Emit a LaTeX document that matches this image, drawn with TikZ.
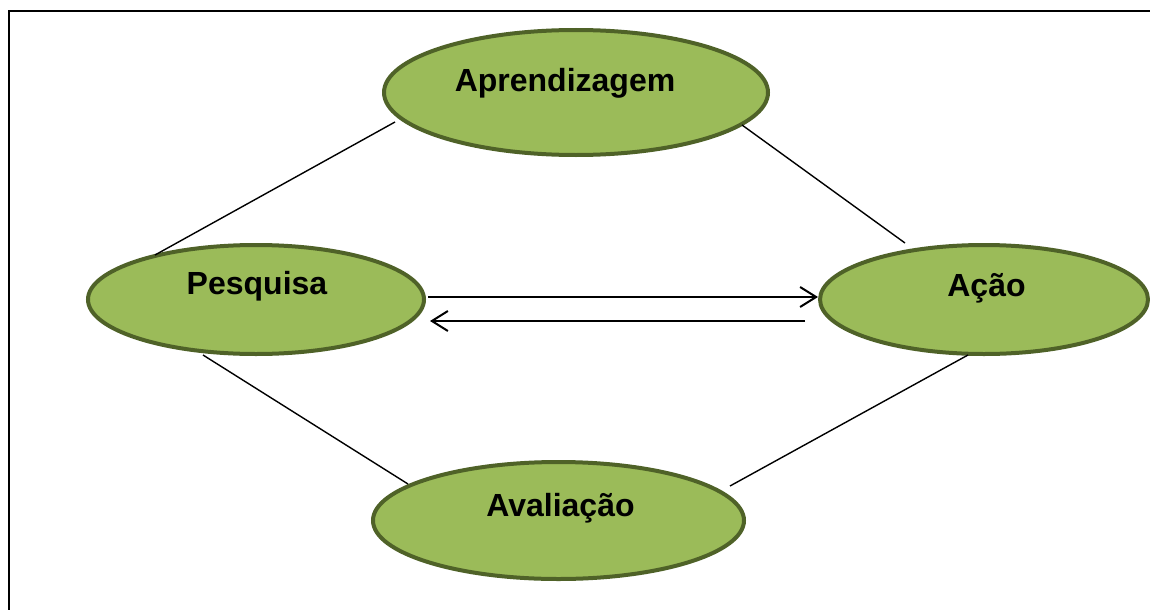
\documentclass[tikz,border=0pt]{standalone}
\usepackage{fontspec}
\setmainfont{Liberation Sans}
\usetikzlibrary{shapes.geometric,arrows.meta,calc}
\definecolor{ellfill}{HTML}{9BBB59}
\definecolor{elldraw}{HTML}{4F6228}
\begin{document}
\begin{tikzpicture}[x=1pt,y=-1pt,
 ell/.style={ellipse,draw=elldraw,fill=ellfill,line width=4pt,inner sep=0pt,outer sep=0pt},
 lbl/.style={font=\bfseries\fontsize{32}{36}\selectfont,anchor=base,inner sep=0pt},
 link/.style={line width=1.4pt},
 arr/.style={line width=2pt,-{Straight Barb[length=16pt,width=20pt,line width=2pt]}}]
\useasboundingbox (0,0) rectangle (1150,610);
\draw[line width=2.6pt] (1150,11) -- (9,11) -- (9,610);
\node[ell,minimum width=384pt,minimum height=125pt] (apr) at (576,92.5) {};
\node[ell,minimum width=336pt,minimum height=109pt] (pes) at (256,299.5) {};
\node[ell,minimum width=328pt,minimum height=109pt] (aca) at (984,299.5) {};
\node[ell,minimum width=371pt,minimum height=117pt] (ava) at (558.5,520.5) {};
\node[lbl] (taprt) at ($(apr)+(-11,-1.5)$) {Aprendizagem};
\node[lbl] (tpes) at ($(pes)+(1,-5)$) {Pesquisa};
\node[lbl] (taca) at ($(aca)+(2.5,-3.5)$) {Ação};
\node[lbl] (tava) at ($(ava)+(2,-4.5)$) {Avaliação};
\draw[link] ($(pes)+(-101,-44.5)$) -- ($(apr)+(-181,29.5)$);
\draw[link] ($(apr)+(166,32.5)$) -- ($(aca)+(-79,-56.5)$);
\draw[link] ($(pes)+(-53,55.5)$) -- ($(ava)+(-150.5,-36.5)$);
\draw[link] ($(aca)+(-16,55.5)$) -- ($(ava)+(171.5,-34.5)$);
\draw[arr] ($(pes)+(172,-2.5)$) -- ($(aca)+(-166,-2.5)$);
\draw[arr] ($(aca)+(-179,21.5)$) -- ($(pes)+(174,21.5)$);
\end{tikzpicture}
\end{document}
